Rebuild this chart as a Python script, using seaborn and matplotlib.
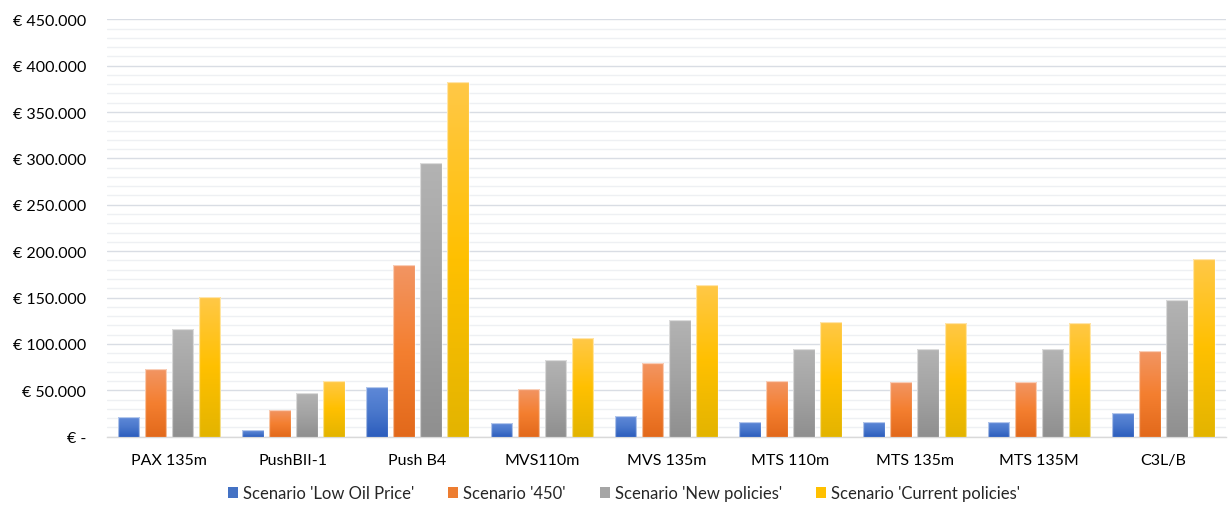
import numpy as np
import pandas as pd
import matplotlib
matplotlib.use("Agg")
import matplotlib.pyplot as plt
from matplotlib.colors import LinearSegmentedColormap
from matplotlib.ticker import MultipleLocator, FuncFormatter
from matplotlib.patches import Patch
import seaborn as sns

models = ["PAX 135m", "PushBII-1", "Push B4", "MVS110m", "MVS 135m",
          "MTS 110m", "MTS 135m", "MTS 135M", "C3L/B"]
scenarios = ["Scenario 'Low Oil Price'", "Scenario '450'",
             "Scenario 'New policies'", "Scenario 'Current policies'"]

low_oil_price = [21000, 7200, 54000, 14500, 22600, 16200, 16200, 16200, 26000]
scen_450 = [73000, 29000, 185000, 51400, 79000, 59700, 58700, 58700, 92700]
new_policies = [116000, 47000, 295000, 82300, 126000, 94500, 94500, 94500, 147600]
current_policies = [150500, 60500, 382500, 106300, 163800, 123300, 122500, 122500, 191500]

base_colors = ["#4472c4", "#ed7d31", "#a5a5a5", "#ffc000"]
gradients = [
    ["#5f89d8", "#4a78cc", "#2c5dbd"],
    ["#f29563", "#f47f30", "#e2691b"],
    ["#b3b3b3", "#a3a3a3", "#8f8f8f"],
    ["#ffc847", "#ffc000", "#e3b400"],
]

df = pd.DataFrame({
    "model": models * 4,
    "scenario": np.repeat(scenarios, len(models)),
    "cost": low_oil_price + scen_450 + new_policies + current_policies,
})

sns.set_theme(style="white")
plt.rcParams["font.family"] = ["Lato", "DejaVu Sans"]

fig = plt.figure(figsize=(12.28, 5.06), dpi=100)
ax = fig.add_axes([0.087, 0.135, 0.911, 0.825])

sns.barplot(data=df, x="model", y="cost", hue="scenario", hue_order=scenarios,
            palette=base_colors, saturation=1, width=0.87, gap=0.2,
            legend=False, ax=ax, zorder=3)

# vertical gradient fill for each bar, clipped to the bar outline
for container, stops in zip(ax.containers, gradients):
    cmap = LinearSegmentedColormap.from_list("g", stops[::-1])
    for bar in container:
        x0, y0 = bar.get_x(), bar.get_y()
        w, h = bar.get_width(), bar.get_height()
        grad = np.linspace(0, 1, 256).reshape(-1, 1)
        im = ax.imshow(grad, cmap=cmap, origin="lower", aspect="auto",
                       extent=(x0, x0 + w, y0, y0 + h), zorder=3,
                       interpolation="bicubic")
        im.set_clip_path(bar)
        bar.set_facecolor("none")
        bar.set_edgecolor((1, 1, 1, 0.55))
        bar.set_linewidth(0.9)
        bar.set_zorder(4)

ax.set_xlim(-0.5, len(models) - 0.5)
ax.set_ylim(0, 450000)
ax.yaxis.set_major_locator(MultipleLocator(50000))
ax.yaxis.set_minor_locator(MultipleLocator(10000))


def euro(v, pos):
    if abs(v) < 1:
        return "€ -"
    return "€ " + f"{int(round(v)):,}".replace(",", ".")


ax.yaxis.set_major_formatter(FuncFormatter(euro))
ax.grid(axis="y", which="major", color="#d9dde4", linewidth=1.0, zorder=0)
ax.grid(axis="y", which="minor", color="#eef0f3", linewidth=1.0, zorder=0)
ax.grid(axis="x", visible=False)
ax.set_axisbelow(True)

for side in ["left", "right", "top"]:
    ax.spines[side].set_visible(False)
ax.spines["bottom"].set_color("#d9d9d9")
ax.spines["bottom"].set_linewidth(1.0)

ax.tick_params(axis="y", which="both", length=0, pad=15, labelsize=11.5,
               labelcolor="#000000")
ax.tick_params(axis="x", length=0, pad=12, labelsize=11.5, labelcolor="#000000")
ax.set_xlabel("")
ax.set_ylabel("")

handles = [Patch(facecolor=c, edgecolor="none") for c in base_colors]
fig.legend(handles, scenarios, loc="lower center", ncol=4, frameon=False,
           bbox_to_anchor=(0.508, -0.022), fontsize=12, handlelength=0.6,
           handleheight=0.6, handletextpad=0.3, columnspacing=2.05)

fig.savefig("out.png", dpi=100, facecolor="white")
